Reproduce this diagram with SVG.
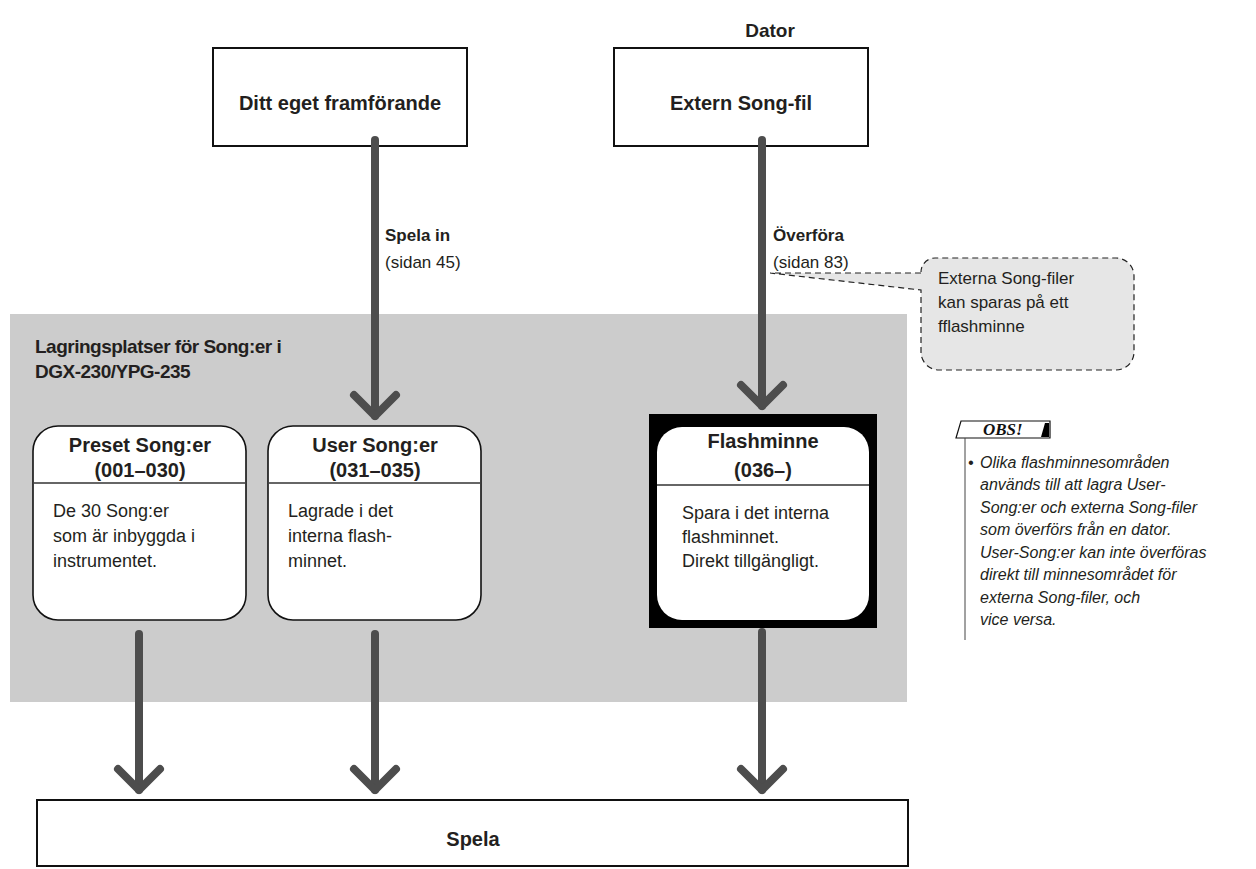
<svg xmlns="http://www.w3.org/2000/svg" width="1256" height="869" viewBox="0 0 1256 869">
<defs>
<style>
.b{font-family:"Liberation Sans",Arial,sans-serif;font-weight:bold;fill:#231f20}
.r{font-family:"Liberation Sans",Arial,sans-serif;fill:#231f20}
.i{font-family:"Liberation Sans",Arial,sans-serif;font-style:italic;fill:#231f20;font-size:16px}
.box{fill:#fff;stroke:#111;stroke-width:2}
.rbox{fill:#fff;stroke:#111;stroke-width:1.6}
.div{stroke:#333;stroke-width:1.5}
.arr{fill:none;stroke:#4d4d4d;stroke-width:8;stroke-linecap:round;stroke-linejoin:round}
</style>
</defs>
<rect x="0" y="0" width="1256" height="869" fill="#fff"/>
<rect x="10" y="314" width="897" height="388" fill="#cccccc"/>
<text class="b" x="35" y="353" font-size="19" letter-spacing="-0.5">Lagringsplatser för Song:er i</text>
<text class="b" x="35" y="378" font-size="19" letter-spacing="-0.5">DGX-230/YPG-235</text>
<text class="b" x="770" y="37" font-size="19" text-anchor="middle">Dator</text>
<g id="node-ditt">
<rect class="box" x="213" y="48" width="254" height="98"/>
<text class="b" x="340" y="110" font-size="20" text-anchor="middle">Ditt eget framförande</text>
</g>
<g id="node-extern">
<rect class="box" x="614" y="48" width="254" height="98"/>
<text class="b" x="741" y="110" font-size="20" text-anchor="middle">Extern Song-fil</text>
</g>
<g id="node-preset">
<rect class="rbox" x="33" y="426" width="213" height="194" rx="25"/>
<line class="div" x1="34" y1="483" x2="245" y2="483"/>
<text class="b" x="140" y="452" font-size="20" text-anchor="middle">Preset Song:er</text>
<text class="b" x="140" y="477" font-size="20" text-anchor="middle">(001–030)</text>
<text class="r" x="53" y="517" font-size="18">De 30 Song:er</text>
<text class="r" x="53" y="542" font-size="18">som är inbyggda i</text>
<text class="r" x="53" y="567" font-size="18">instrumentet.</text>
</g>
<g id="node-user">
<rect class="rbox" x="268" y="426" width="213" height="194" rx="25"/>
<line class="div" x1="269" y1="483" x2="480" y2="483"/>
<text class="b" x="375" y="452" font-size="20" text-anchor="middle">User Song:er</text>
<text class="b" x="375" y="477" font-size="20" text-anchor="middle">(031–035)</text>
<text class="r" x="288" y="517" font-size="18">Lagrade i det</text>
<text class="r" x="288" y="542" font-size="18">interna flash-</text>
<text class="r" x="288" y="567" font-size="18">minnet.</text>
</g>
<g id="node-flash">
<rect x="649" y="414" width="228" height="214" fill="#000"/>
<rect x="657" y="427" width="212" height="193" rx="25" fill="#fff"/>
<line class="div" x1="657" y1="485" x2="869" y2="485"/>
<text class="b" x="763" y="448" font-size="20" text-anchor="middle">Flashminne</text>
<text class="b" x="763" y="477" font-size="20" text-anchor="middle">(036–)</text>
<text class="r" x="682" y="519" font-size="18">Spara i det interna</text>
<text class="r" x="682" y="543" font-size="18">flashminnet.</text>
<text class="r" x="682" y="567" font-size="18">Direkt tillgängligt.</text>
</g>
<g id="node-spela">
<rect class="box" x="37" y="800" width="871" height="66"/>
<text class="b" x="473" y="846" font-size="20" text-anchor="middle">Spela</text>
</g>
<g id="connectors">
<line class="arr" x1="375" y1="140" x2="375" y2="416"/>
<polyline class="arr" points="354,395 375,416 396,395"/>
<line class="arr" x1="762" y1="140" x2="762" y2="406"/>
<polyline class="arr" points="741,385 762,406 783,385"/>
<line class="arr" x1="139" y1="634" x2="139" y2="790"/>
<polyline class="arr" points="118,769 139,790 160,769"/>
<line class="arr" x1="375" y1="634" x2="375" y2="790"/>
<polyline class="arr" points="354,769 375,790 396,769"/>
<line class="arr" x1="762" y1="632" x2="762" y2="790"/>
<polyline class="arr" points="741,769 762,790 783,769"/>
</g>
<g id="label-spela-in">
<text class="b" x="385" y="241" font-size="17">Spela in</text>
<text class="r" x="385" y="268" font-size="17">(sidan 45)</text>
</g>
<g id="label-overfora">
<text class="b" x="773" y="241" font-size="17">Överföra</text>
<text class="r" x="773" y="268" font-size="17">(sidan 83)</text>
</g>
<g id="callout">
<path d="M921,273 L770,273 L921,290 L921,352 A18,18 0 0 0 939,370 L1116,370 A18,18 0 0 0 1134,352 L1134,276 A18,18 0 0 0 1116,258 L935,258 A14,14 0 0 0 921,272" fill="#e6e6e6" stroke="#222" stroke-width="1.2" stroke-dasharray="6 4"/>
<text class="r" x="938" y="284" font-size="17">Externa Song-filer</text>
<text class="r" x="938" y="308" font-size="17">kan sparas på ett</text>
<text class="r" x="938" y="332" font-size="17">fflashminne</text>
</g>
<g id="note">
<path d="M961,421 L1050,421 L1050,438 L956,438 Z" fill="#fff" stroke="#111" stroke-width="1.2"/>
<polygon points="1045,423 1049,423 1049,437 1041,437" fill="#000"/>
<text x="983" y="435" font-family="'Liberation Serif','Times New Roman',serif" font-style="italic" font-weight="bold" font-size="17" fill="#111">OBS!</text>
<line x1="965" y1="438" x2="965" y2="640" stroke="#444" stroke-width="1"/>
<text class="i" x="968" y="468">•</text>
<text class="i" x="980" y="468">Olika flashminnesområden</text>
<text class="i" x="980" y="490">används till att lagra User-</text>
<text class="i" x="980" y="513">Song:er och externa Song-filer</text>
<text class="i" x="980" y="535">som överförs från en dator.</text>
<text class="i" x="980" y="558">User-Song:er kan inte överföras</text>
<text class="i" x="980" y="580">direkt till minnesområdet för</text>
<text class="i" x="980" y="603">externa Song-filer, och</text>
<text class="i" x="980" y="625">vice versa.</text>
</g>
</svg>
